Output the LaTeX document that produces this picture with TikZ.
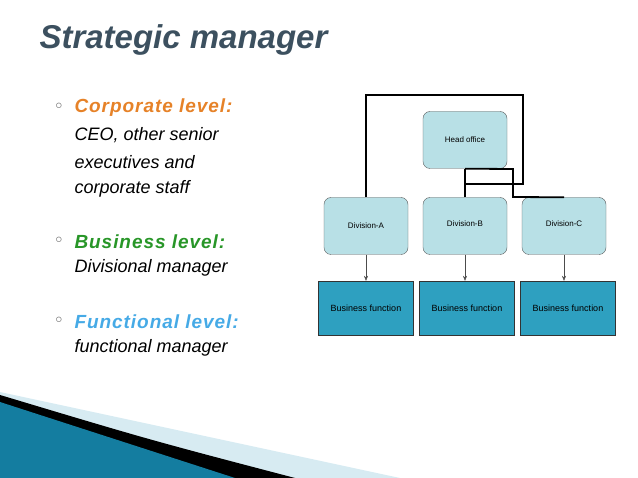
\documentclass[tikz,border=0pt]{standalone}
\usepackage{fontspec}
\setmainfont{Liberation Sans}
\newfontfamily\bulletfont{DejaVu Sans}
\usetikzlibrary{arrows.meta}
\definecolor{divfill}{RGB}{184,224,230}
\definecolor{bizfill}{RGB}{46,160,192}
\definecolor{corpcol}{RGB}{230,130,40}
\definecolor{buscol}{RGB}{40,150,40}
\definecolor{funccol}{RGB}{70,170,230}
\definecolor{titlecol}{RGB}{60,80,95}
\definecolor{swoosh}{RGB}{20,125,160}
\definecolor{swooshlight}{RGB}{215,235,242}
\tikzset{
  office/.style={draw=gray!70!black, fill=divfill, rounded corners=7pt, minimum width=84pt, minimum height=57pt, font=\fontsize{8}{10}\selectfont},
  bizbox/.style={draw=black!80, fill=bizfill, minimum width=95pt, minimum height=54pt, font=\fontsize{9}{11}\selectfont},
  link/.style={line width=1.8pt, black},
  feed/.style={gray!60!black, -{Stealth[length=5pt,width=4pt]}},
  bullet/.style={anchor=west, font=\bulletfont\fontsize{18}{20}\selectfont, text=gray!70!black},
  level/.style={anchor=west, font=\fontsize{19}{22}\selectfont\bfseries\itshape\addfontfeature{LetterSpace=5}},
  detail/.style={anchor=west, font=\fontsize{18}{21}\selectfont\itshape}
}
\begin{document}
\begin{tikzpicture}[x=1pt,y=-1pt]
\useasboundingbox (0,0) rectangle (638,478);
% swoosh
\fill[swooshlight] (0,392) -- (400,478) -- (0,478) -- cycle;
\fill[black] (0,395) .. controls (150,440) .. (295,478) -- (0,478) -- cycle;
\fill[swoosh] (0,402) -- (235,478) -- (0,478) -- cycle;
% title
\node[anchor=west, text=titlecol, font=\fontsize{33}{36}\selectfont\bfseries\itshape] (title) at (36,40) {Strategic manager};
% left text
\node[bullet] (b1) at (50,108) {◦};
\node[level, text=corpcol] (corp) at (71,108) {Corporate level:};
\node[detail] (corpa) at (71,135) {CEO, other senior};
\node[detail] (corpb) at (71,162) {executives and};
\node[detail] (corpc) at (71,189) {corporate staff};
\node[bullet] (b2) at (50,242) {◦};
\node[level, text=buscol] (bus) at (71,242) {Business level:};
\node[detail] (busa) at (71,268) {Divisional manager};
\node[bullet] (b3) at (50,322) {◦};
\node[level, text=funccol] (func) at (71,322) {Functional level:};
\node[detail] (funca) at (71,348) {functional manager};
% chart
\node[office] (head) at (465,140) {Head office};
\node[office] (divA) at (366,226) {\raisebox{-2pt}{Division-A}};
\node[office] (divB) at (465,226) {\raisebox{5pt}{Division-B}};
\node[office] (divC) at (564,226) {\raisebox{5pt}{Division-C}};
\node[bizbox] (bizA) at (366,308) {Business function};
\node[bizbox] (bizB) at (467,308) {Business function};
\node[bizbox] (bizC) at (568,308) {Business function};
\draw[link] (divA.north) -- ++(0,-102) -| (523,184) -| (divB.north);
\draw[link] (divB.north) -- (head.south);
\draw[link] (head.south) -- (513,169) -- (513,197) -- (divC.north);
\foreach \d/\b in {divA/bizA,divB/bizB,divC/bizC}
  \draw[feed] (\d.south) -- (\d.south |- \b.north);
\end{tikzpicture}
\end{document}
